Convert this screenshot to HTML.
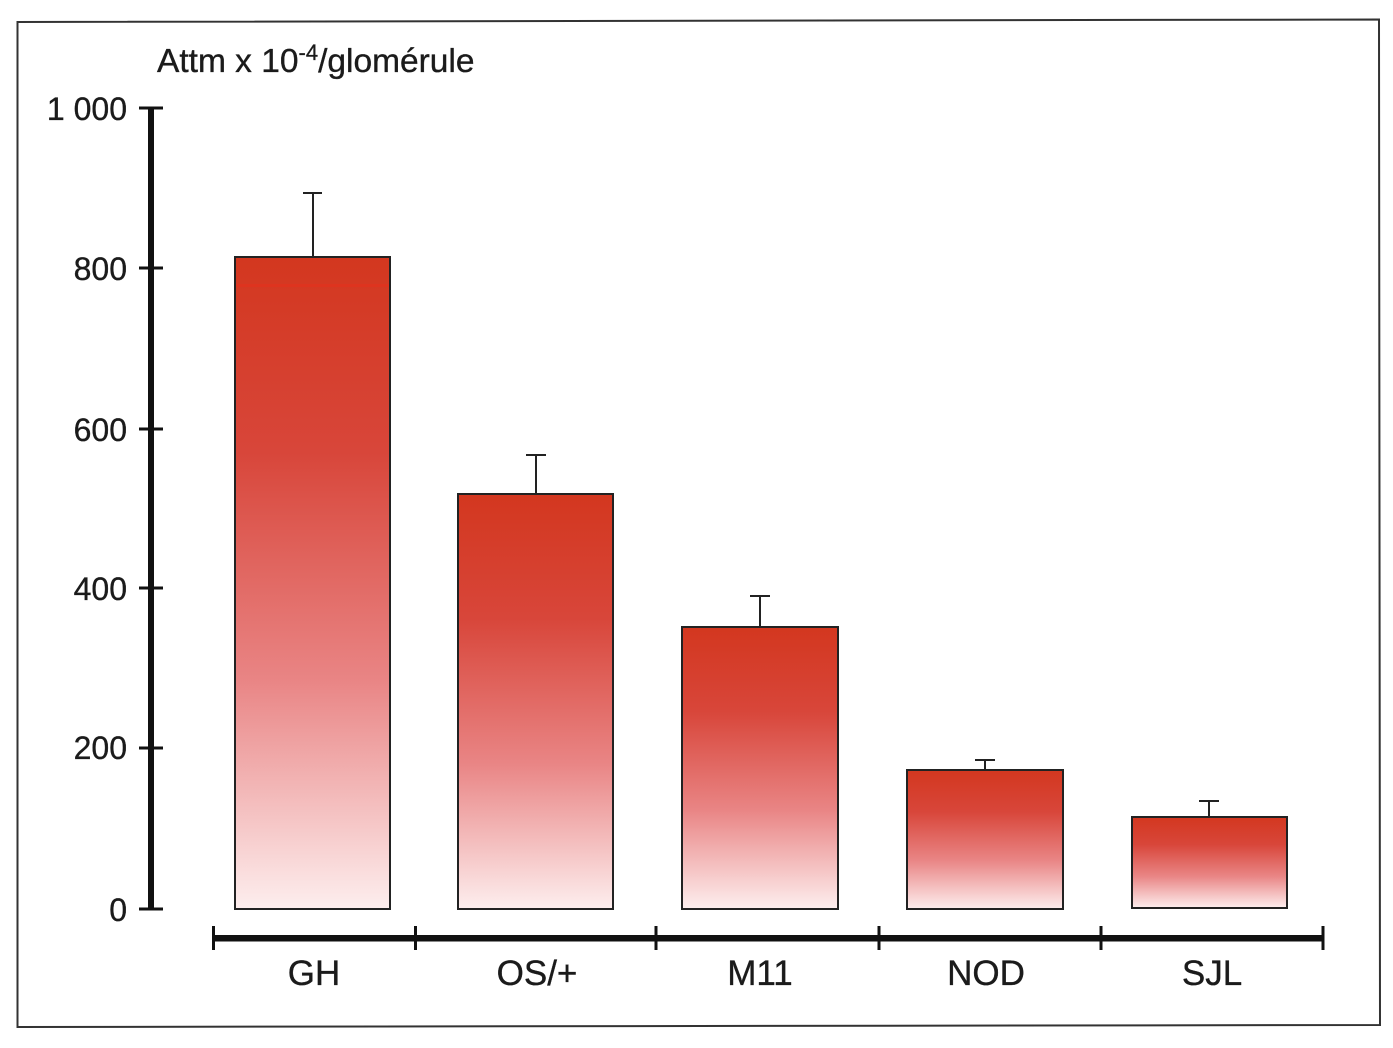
<!DOCTYPE html>
<html>
<head>
<meta charset="utf-8">
<style>
  html, body { margin:0; padding:0; background:#ffffff; }
  body { width:1393px; height:1048px; overflow:hidden; }
  svg { display:block; }
  text { font-family: "Liberation Sans", Arial, sans-serif; fill:#1b1b1b; stroke:#1b1b1b; stroke-width:0.35; }
</style>
</head>
<body>
<svg width="1393" height="1048" viewBox="0 0 1393 1048" xmlns="http://www.w3.org/2000/svg">
  <defs>
    <linearGradient id="g" x1="0" y1="0" x2="0" y2="1">
      <stop offset="0" stop-color="#d3371f"/>
      <stop offset="0.3" stop-color="#d8463a"/>
      <stop offset="0.65" stop-color="#e98585"/>
      <stop offset="1" stop-color="#fdeeee"/>
    </linearGradient>
  </defs>
  <rect width="1393" height="1048" fill="#ffffff"/>

  <!-- frame -->
  <path d="M17.5 22 L1379 19.5 L1380 1025 L17.5 1027 Z" fill="none" stroke="#333" stroke-width="2"/>

  <!-- title -->
  <text x="157" y="72" font-size="33.5">Attm x 10<tspan font-size="22" dy="-12">-4</tspan><tspan dy="12">/glomérule</tspan></text>

  <!-- y axis -->
  <rect x="148" y="107" width="6" height="803" fill="#111"/>
  <g fill="#111">
    <rect x="139" y="106.5" width="24" height="3"/>
    <rect x="139" y="266.5" width="24" height="3"/>
    <rect x="139" y="427.5" width="24" height="3"/>
    <rect x="139" y="586.5" width="24" height="3"/>
    <rect x="139" y="746.5" width="24" height="3"/>
    <rect x="139" y="907.5" width="24" height="3"/>
  </g>
  <g font-size="32" text-anchor="end">
    <text x="127" y="120">1 000</text>
    <text x="127" y="280">800</text>
    <text x="127" y="441">600</text>
    <text x="127" y="600">400</text>
    <text x="127" y="759">200</text>
    <text x="127" y="921">0</text>
  </g>

  <!-- bars -->
  <g stroke="#222" stroke-width="2">
    <rect x="235" y="257" width="155" height="652" fill="url(#g)"/>
    <rect x="458" y="494" width="155" height="415" fill="url(#g)"/>
    <rect x="682" y="627" width="156" height="282" fill="url(#g)"/>
    <rect x="907" y="770" width="156" height="139" fill="url(#g)"/>
    <rect x="1132" y="817" width="155" height="91" fill="url(#g)"/>
  </g>
  <!-- faint highlight line in GH bar -->
  <rect x="236" y="284" width="153" height="3" fill="#e2321e" opacity="0.7"/>

  <!-- error bars -->
  <g stroke="#222" stroke-width="2" fill="none">
    <path d="M313 256 V193 M303 193 H322"/>
    <path d="M536 493 V455 M526 455 H546"/>
    <path d="M760 626 V596 M750 596 H770"/>
    <path d="M985 769 V760 M975 760 H995"/>
    <path d="M1209 816 V801 M1199 801 H1219"/>
  </g>

  <!-- x axis -->
  <rect x="213" y="935" width="1110" height="6.5" fill="#111"/>
  <g fill="#111">
    <rect x="212" y="926" width="3" height="24"/>
    <rect x="414" y="926" width="3" height="24"/>
    <rect x="654.5" y="926" width="3" height="24"/>
    <rect x="877.5" y="926" width="3" height="24"/>
    <rect x="1099.5" y="926" width="3" height="24"/>
    <rect x="1321.5" y="926" width="3" height="24"/>
  </g>
  <g font-size="35" text-anchor="middle">
    <text x="314" y="985">GH</text>
    <text x="537" y="985">OS/+</text>
    <text x="760" y="985">M11</text>
    <text x="986" y="985">NOD</text>
    <text x="1212" y="985">SJL</text>
  </g>
</svg>
</body>
</html>
